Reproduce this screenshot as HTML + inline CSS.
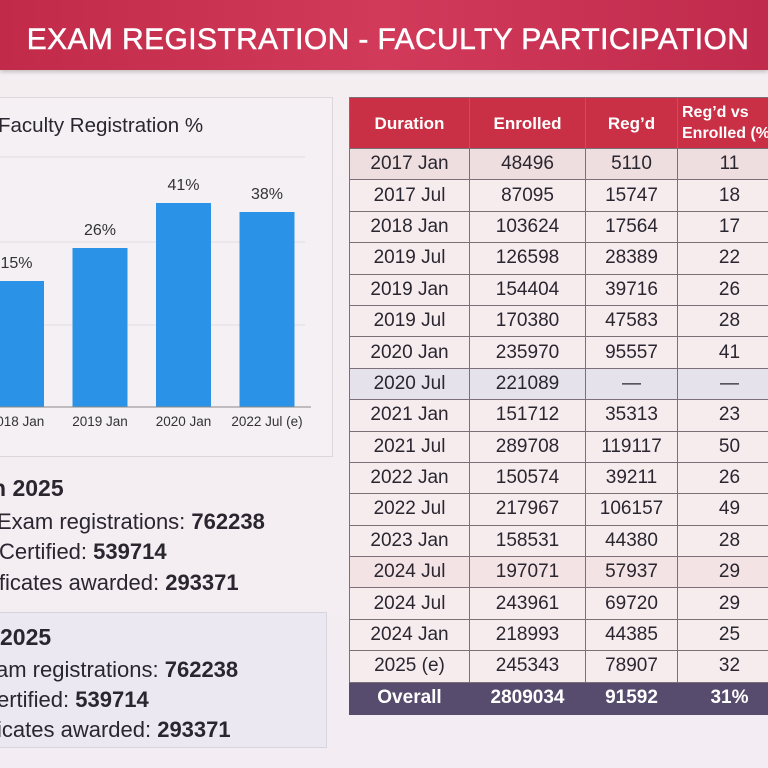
<!DOCTYPE html>
<html><head><meta charset="utf-8"><style>
*{margin:0;padding:0;box-sizing:border-box}
body{width:768px;height:768px;overflow:hidden;background:linear-gradient(180deg,#f5eef1,#f3edf3);font-family:"Liberation Sans",sans-serif;position:relative;color:#2a2630}
#hdr{position:absolute;left:0;top:0;width:768px;height:70px;background:linear-gradient(90deg,#c22a4a,#d23a5a 50%,#c02a4c);box-shadow:0 2px 4px rgba(0,0,0,.2)}
#hdr h1{position:absolute;left:0;width:776px;top:23px;text-align:center;color:#fff;font-size:30px;font-weight:normal;letter-spacing:0.4px;-webkit-text-stroke:0.5px #fff}
#panel{position:absolute;left:-4px;top:97px;width:337px;height:360px;background:#f4f0f4;border:1px solid #dcd6dc}
.s{position:absolute;font-size:22px;white-space:nowrap}
.s b{font-weight:bold}
#box2{position:absolute;left:-4px;top:612px;width:331px;height:136px;background:#ece8f2;border:1px solid #d8d4de}
table{position:absolute;left:349px;top:97px;width:432px;border-collapse:collapse;font-size:19px;table-layout:fixed}
td,th{border:1px solid #7c7078;text-align:center;height:31.4px;padding:0}
th{background:#c93045;color:#fff;font-weight:bold;font-size:17px;height:51px;line-height:21px}
tr.alt td{background:#f3e3e4}
td{background:#f6ecee}
tr.tot td{background:#574b6e;color:#fff;font-weight:bold;height:32px;border-color:#574b6e}
</style></head><body>
<div id="hdr"><h1>EXAM REGISTRATION - FACULTY PARTICIPATION</h1></div>
<div id="panel"></div>
<svg id="chart" width="340" height="460" style="position:absolute;left:0;top:0">
<text x="-2" y="132" font-size="20.5" fill="#2a2630">Faculty Registration %</text>
</svg>
<div class="s" style="left:-8px;top:475px;font-size:23px;font-weight:bold">n 2025</div>
<div class="s" style="left:-3px;top:509px">Exam registrations: <b>762238</b></div>
<div class="s" style="left:-1px;top:539px">Certified: <b>539714</b></div>
<div class="s" style="left:-6px;top:570px">ificates awarded: <b>293371</b></div>
<div id="box2"></div>
<div class="s" style="left:0px;top:624px;font-size:23px;font-weight:bold">2025</div>
<div class="s" style="left:-4px;top:657px">am registrations: <b>762238</b></div>
<div class="s" style="left:-3px;top:687px">ertified: <b>539714</b></div>
<div class="s" style="left:-3px;top:717px">icates awarded: <b>293371</b></div>
<table>
<colgroup><col style="width:120px"><col style="width:116px"><col style="width:92px"><col style="width:104px"></colgroup>
<thead><tr><th>Duration</th><th>Enrolled</th><th>Reg’d</th><th style="font-size:16px;text-align:left;padding-left:4px">Reg’d vs<br>Enrolled (%)</th></tr></thead>
<tbody id="tb"></tbody></table>
<script>
const categories=["2018 Jan","2019 Jan","2020 Jan","2022 Jul (e)"];
const values=[15,26,41,38];
const svg=document.getElementById('chart');
const NS="http://www.w3.org/2000/svg";
const base=407;
function y(v){return base-(v+27)*3;}
function x(i){return -11+i*83.5;}
const bw=55;
[157,242,325].forEach(g=>{const l=document.createElementNS(NS,'line');l.setAttribute('x1',0);l.setAttribute('x2',305);l.setAttribute('y1',g);l.setAttribute('y2',g);l.setAttribute('stroke','#e2dce2');


svg.appendChild(l);});
categories.forEach((c,i)=>{
 const r=document.createElementNS(NS,'rect');r.setAttribute('x',x(i));r.setAttribute('y',y(values[i]));r.setAttribute('width',bw);r.setAttribute('height',base-y(values[i]));r.setAttribute('fill','#2a93e8');
 
 
 svg.appendChild(r);
 const t=document.createElementNS(NS,'text');t.setAttribute('x',x(i)+bw/2);t.setAttribute('y',y(values[i])-13);t.setAttribute('text-anchor','middle');t.setAttribute('font-size','16');t.setAttribute('fill','#333');t.textContent=values[i]+'%';
 
 
 svg.appendChild(t);
 const k=document.createElementNS(NS,'text');k.setAttribute('x',x(i)+bw/2);k.setAttribute('y',426);k.setAttribute('text-anchor','middle');k.setAttribute('font-size','13.5');k.setAttribute('fill','#333');k.textContent=c;
 
 
 svg.appendChild(k);
});
const ax=document.createElementNS(NS,'line');ax.setAttribute('x1',0);ax.setAttribute('x2',311);ax.setAttribute('y1',base);ax.setAttribute('y2',base);ax.setAttribute('stroke','#888');


svg.appendChild(ax);

const durations=["2017 Jan","2017 Jul","2018 Jan","2019 Jul","2019 Jan","2019 Jul","2020 Jan","2020 Jul","2021 Jan","2021 Jul","2022 Jan","2022 Jul","2023 Jan","2024 Jul","2024 Jul","2024 Jan","2025 (e)"];
const enrolled=["48496","87095","103624","126598","154404","170380","235970","221089","151712","289708","150574","217967","158531","197071","243961","218993","245343"];
const registered=["5110","15747","17564","28389","39716","47583","95557","—","35313","119117","39211","106157","44380","57937","69720","44385","78907"];
const pct=["11","18","17","22","26","28","41","—","23","50","26","49","28","29","29","25","32"];
const tb=document.getElementById('tb');
durations.forEach((d,i)=>{
 const tr=document.createElement('tr');
 
 
 if(i===0||i===13)tr.className='alt';
 [d,enrolled[i],registered[i],pct[i]].forEach(v=>{const td=document.createElement('td');td.textContent=v;if(i===7)td.style.background='#e6e2ec';if(i===0)td.style.background='#efdedf';tr.appendChild(td);});
 tb.appendChild(tr);
});
const tot=document.createElement('tr');tot.className='tot';


["Overall","2809034","91592","31%"].forEach(v=>{const td=document.createElement('td');td.textContent=v;tot.appendChild(td);});
tb.appendChild(tot);
</script>
</body></html>
